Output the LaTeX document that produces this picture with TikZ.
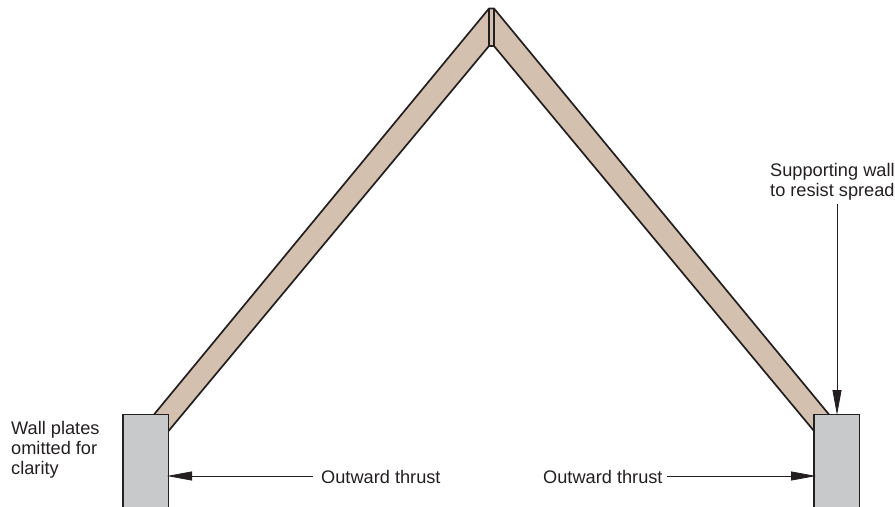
\documentclass[tikz,border=0pt]{standalone}
\usepackage{fontspec}
\setmainfont{Liberation Sans}
\usetikzlibrary{arrows.meta}
\definecolor{timber}{RGB}{211,192,174}
\definecolor{wallgrey}{RGB}{200,201,203}
\definecolor{ink}{RGB}{35,31,32}
\tikzset{
  outline/.style={draw=ink,line width=1.7bp,line join=miter},
  thrust/.style={draw=ink,line width=0.8bp,-{Triangle[length=25bp,width=9bp]}},
  lbl/.style={font=\fontsize{18.2bp}{19.9bp}\selectfont,text=ink,inner sep=0pt},
}
\begin{document}
\begin{tikzpicture}[x=1bp,y=-1bp]
\useasboundingbox (0,0) rectangle (895,507);
% rafters
\path[fill=timber] (154,414.5) -- (489,8.5) -- (494,8.5) -- (829,414.5) -- (814,431) -- (494,46) -- (489,46) -- (168.5,431) -- cycle;
\draw[outline] (154,414.5) -- (489,8.5) -- (494,8.5) -- (829,414.5);
\draw[outline] (168.5,431) -- (489,46) -- (494,46) -- (814,431);
\draw[outline] (489,8.5) -- (489,46);
\draw[outline] (494,8.5) -- (494,46);
% walls
\draw[outline,fill=wallgrey] (123,507) -- (123,414.5) -- (168.5,414.5) -- (168.5,507);
\draw[outline,fill=wallgrey] (814,507) -- (814,414.5) -- (859.5,414.5) -- (859.5,507);
% labels
\node[lbl,anchor=west] (lt) at (321,476.5) {Outward thrust};
\node[lbl,anchor=west] (rt) at (543,476.5) {Outward thrust};
\node[lbl,anchor=north west,align=left] (wp) at (11,421) {Wall plates\\omitted for\\clarity};
\node[lbl,anchor=north west,align=left] (sw) at (770,163.5) {Supporting wall\\to resist spread};
\coordinate (lwall) at (167,476);
\coordinate (rwall) at (816,476);
\coordinate (rtop) at (837,415);
\draw[thrust] (lt.west |- lwall) ++(-8,0) -- (lwall);
\draw[thrust] (rt.east |- rwall) ++(4,0) -- (rwall);
\draw[thrust] (rtop |- sw.south) ++(0,3) -- (rtop);
\end{tikzpicture}
\end{document}
